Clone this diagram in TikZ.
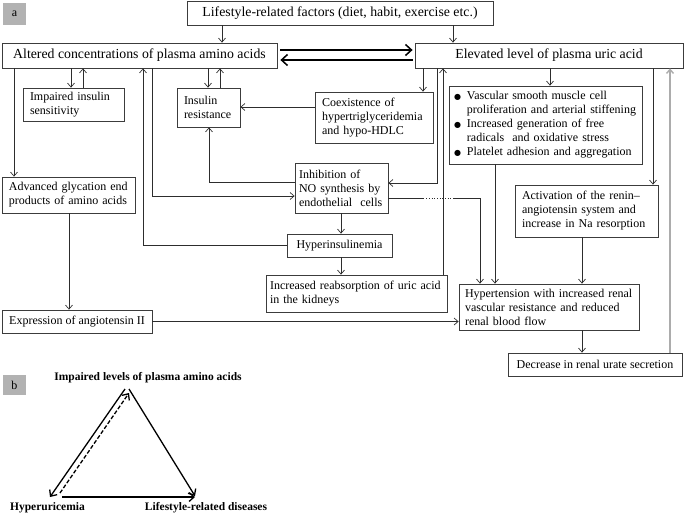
\documentclass[tikz,border=0pt]{standalone}
\usepackage{fontspec}
\setmainfont{Liberation Serif}
\newfontfamily\symfont{DejaVu Sans}
\usetikzlibrary{arrows.meta}
\definecolor{boxline}{RGB}{60,60,60}
\definecolor{wirecol}{RGB}{45,45,45}
\definecolor{tabgray}{RGB}{178,178,178}
\newcommand{\bul}{{\symfont\fontsize{8}{8}\selectfont ●}}

\begin{document}
\begin{tikzpicture}[x=1pt, y=-1pt, >={Straight Barb[length=4pt,width=7pt]}]
\tikzstyle{box}=[draw=boxline, line width=0.8pt, inner xsep=7pt, inner ysep=2pt, font=\fontsize{12}{14}\selectfont, align=left]
\tikzstyle{head}=[box, font=\fontsize{13.8}{16}\selectfont, align=center]
\tikzstyle{tab}=[fill=tabgray, minimum width=23pt, minimum height=22pt, inner sep=0pt, font=\fontsize{12}{12}\selectfont]
\tikzstyle{wire}=[draw=wirecol, line width=0.7pt, ->]
\tikzstyle{thk}=[draw=black, line width=1.5pt, -{Straight Barb[length=6pt,width=11pt]}]
\tikzstyle{lbl}=[font=\bfseries\fontsize{11.5}{13}\selectfont, inner sep=0pt]
\useasboundingbox (0,0) rectangle (685,516);

% panel a
\node[tab] (taba) at (14.5,14) {a};
\node[head, minimum width=306pt, minimum height=24pt] (life) at (340,13) {Lifestyle-related factors (diet, habit, exercise etc.)};
\node[head, minimum width=275pt, minimum height=25pt] (alt) at (139.5,55.5) {Altered concentrations of plasma amino acids};
\node[head, minimum width=268pt, minimum height=25pt] (elev) at (549,55.5) {Elevated level of plasma uric acid};
\node[box, text width=87pt, minimum height=33pt] (imp) at (73.5,104.5) {Impaired insulin\\sensitivity};
\node[box, text width=49pt, minimum height=39pt] (ins) at (208.5,107.5) {Insulin\\resistance};
\node[box, text width=104pt, minimum height=51pt] (coex) at (374,117.5) {Coexistence of\\hypertriglyceridemia\\and hypo-HDLC};
\node[box, inner xsep=5pt, text width=183pt, minimum height=78pt] (bul) at (545.5,125) {%
\begin{tabular}{@{}l@{\hspace{6pt}}l@{}}
\bul & Vascular smooth muscle cell\\
 & proliferation and arterial stiffening\\
\bul & Increased generation of free\\
 & radicals\ \ and oxidative stress\\
\bul & Platelet adhesion and aggregation
\end{tabular}};
\node[box, inner xsep=4pt, text width=85pt, minimum height=50pt] (inh) at (341.5,188) {Inhibition of\\\mbox{NO synthesis by}\\\mbox{endothelial\ \ cells}};
\node[box, text width=119pt, minimum height=36pt] (adv) at (68.5,195) {Advanced glycation end\\products of amino acids};
\node[box, text width=129pt, minimum height=52pt] (act) at (586.5,211) {Activation of the renin–\\angiotensin system and\\increase in Na resorption};
\node[box, inner xsep=3pt, align=center, minimum width=105pt, minimum height=23pt] (hyi) at (339.5,245.5) {Hyperinsulinemia};
\node[box, inner xsep=4pt, text width=173pt, minimum height=37pt] (reab) at (356.5,293.5) {\mbox{Increased reabsorption of uric acid}\\in the kidneys};
\node[box, inner xsep=6pt, text width=168pt, minimum height=46pt] (hyp) at (549,307) {Hypertension with increased renal\\vascular resistance and reduced\\renal blood flow};
\node[box, inner xsep=3pt, align=center, minimum width=150pt, minimum height=23pt] (expr) at (77,321.5) {Expression of angiotensin II};
\node[box, inner xsep=3pt, align=center, minimum width=174pt, minimum height=23pt] (dec) at (595,364.5) {Decrease in renal urate secretion};

\draw[wire] (life.south -| 222,0) -- (alt.north -| 222,0);
\draw[wire] (life.south -| 453,0) -- (elev.north -| 453,0);
\draw[thk, shorten <=3pt, shorten >=2pt] (alt.east |- 0,50) -- (elev.west |- 0,50);
\draw[thk, shorten <=2pt, shorten >=3pt] (elev.west |- 0,60) -- (alt.east |- 0,60);
\draw[wire] (alt.south -| 71,0) -- (imp.north -| 71,0);
\draw[wire] (imp.north -| 83,0) -- (alt.south -| 83,0);
\draw[wire] (alt.south -| 208,0) -- (ins.north -| 208,0);
\draw[wire] (ins.north -| 220,0) -- (alt.south -| 220,0);
\draw[wire] (alt.south -| 14,0) -- (adv.north -| 14,0);
\draw[wire] (hyi.west) -| (alt.south -| 143,0);
\draw[wire] (alt.south -| 152,0) |- (inh.west |- 0,196);
\draw[wire] (inh.west |- 0,182) -| (ins.south -| 209,0);
\draw[wire] (coex.west |- 0,107) -- (ins.east |- 0,107);
\draw[wire] (elev.south -| 423,0) -- (coex.north -| 423,0);
\draw[wire] (elev.south -| 437,0) |- (inh.east |- 0,183);
\draw[wire] (reab.north -| 443,0) -- (elev.south -| 443,0);
\draw[wire, -] (inh.east |- 0,198) -- ++(35,0) coordinate (dotA);
\draw[wire, -, dotted] (dotA) -- ++(30,0) coordinate (dotB);
\draw[wire] (dotB) -| (hyp.north -| 480,0);
\draw[wire] (bul.south -| 495,0) -- (hyp.north -| 495,0);
\draw[wire] (elev.south -| 550,0) -- (bul.north -| 550,0);
\draw[wire] (elev.south -| 653,0) -- (act.north -| 653,0);
\draw[wire] (act.south -| 582,0) -- (hyp.north -| 582,0);
\draw[wire] (hyp.south -| 582,0) -- (dec.north -| 582,0);
\draw[wire, draw=gray!65, line width=1.4pt] (dec.north -| 670,0) -- (elev.south -| 670,0);
\draw[wire] (adv.south -| 69,0) -- (expr.north -| 69,0);
\draw[wire] (inh.south -| 341,0) -- (hyi.north -| 341,0);
\draw[wire] (hyi.south -| 341,0) -- (reab.north -| 341,0);
\draw[wire] (expr.east) -- (hyp.west |- expr.east);

% panel b
\node[tab, minimum height=20pt] (tabb) at (14.5,385) {b};
\node[lbl] (imlv) at (148,378) {Impaired levels of plasma amino acids};
\node[lbl] (hyu) at (47.5,508) {Hyperuricemia};
\node[lbl] (lrd) at (206,508) {Lifestyle-related diseases};
\coordinate (apx) at (127,389);
\coordinate (lft) at (50,497);
\coordinate (rgt) at (195,496);
\draw[thk, line width=1.3pt, -{Straight Barb[length=5pt,width=9pt]}] ([xshift=-2pt]apx) -- (lft);
\draw[thk, line width=1.3pt, dash pattern=on 4pt off 2pt, -{Straight Barb[length=5pt,width=9pt]}] ([xshift=10pt,yshift=4pt]lft) -- ([xshift=2pt,yshift=-4pt]apx);
\draw[thk, line width=1.3pt, -{Straight Barb[length=5pt,width=9pt]}] ([xshift=2pt]apx) -- (rgt);
\draw[thk, line width=1.3pt, -{Straight Barb[length=5pt,width=9pt]}] ([xshift=12pt]lft) -- (rgt |- lft);
\end{tikzpicture}
\end{document}
